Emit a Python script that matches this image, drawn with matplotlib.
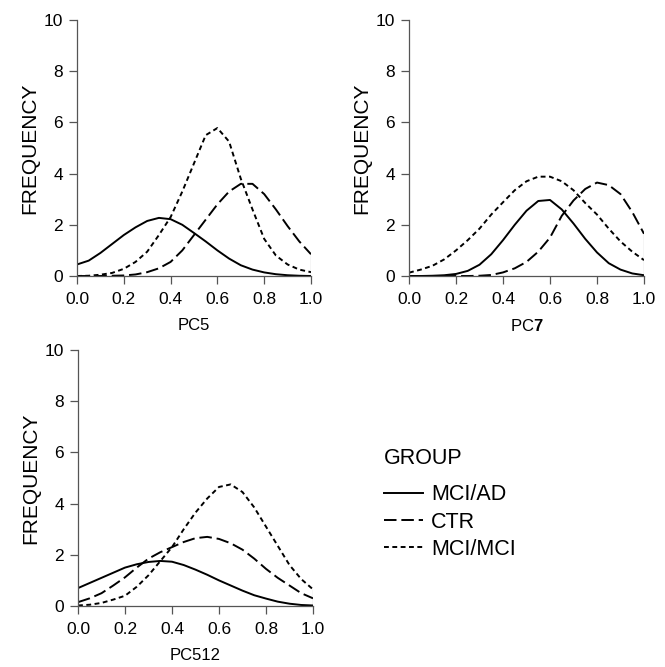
import matplotlib
matplotlib.use("Agg")
import matplotlib.pyplot as plt

plt.rcParams['font.family'] = ['Liberation Sans', 'DejaVu Sans']
plt.rcParams['mathtext.fontset'] = 'custom'
plt.rcParams['mathtext.rm'] = 'Liberation Sans'
plt.rcParams['mathtext.bf'] = 'Liberation Sans:bold'
plt.rcParams['lines.scale_dashes'] = False

xs = [0.0, 0.05, 0.1, 0.15, 0.2, 0.25, 0.3, 0.35, 0.4, 0.45, 0.5,
      0.55, 0.6, 0.65, 0.7, 0.75, 0.8, 0.85, 0.9, 0.95, 1.0]

groups = ["MCI/AD", "CTR", "MCI/MCI"]

# PC5
pc5_mci_ad = [0.45, 0.6, 0.9, 1.25, 1.6, 1.9, 2.15, 2.27, 2.22, 2.0, 1.68,
              1.35, 1.0, 0.68, 0.42, 0.25, 0.14, 0.07, 0.03, 0.01, 0.0]
pc5_ctr = [0.0, 0.0, 0.0, 0.01, 0.02, 0.06, 0.15, 0.3, 0.55, 1.0, 1.6,
           2.2, 2.8, 3.3, 3.6, 3.6, 3.2, 2.6, 1.95, 1.35, 0.85]
pc5_mci_mci = [0.0, 0.01, 0.05, 0.12, 0.28, 0.55, 0.95, 1.6, 2.3, 3.3, 4.4,
               5.5, 5.78, 5.25, 3.8, 2.6, 1.45, 0.8, 0.45, 0.25, 0.15]

# PC7
pc7_mci_ad = [0.0, 0.0, 0.01, 0.03, 0.08, 0.2, 0.44, 0.85, 1.4, 2.0, 2.55,
              2.93, 2.97, 2.6, 2.05, 1.45, 0.92, 0.5, 0.25, 0.1, 0.03]
pc7_ctr = [0.0, 0.0, 0.0, 0.0, 0.0, 0.0, 0.01, 0.04, 0.14, 0.3, 0.55,
           0.95, 1.5, 2.35, 2.95, 3.4, 3.65, 3.55, 3.2, 2.5, 1.65]
pc7_mci_mci = [0.13, 0.25, 0.4, 0.65, 1.0, 1.4, 1.85, 2.4, 2.88, 3.35, 3.7,
               3.88, 3.88, 3.7, 3.35, 2.85, 2.4, 1.85, 1.35, 0.95, 0.62]

# PC512
pc512_mci_ad = [0.7, 0.9, 1.1, 1.3, 1.5, 1.63, 1.72, 1.76, 1.73, 1.6, 1.42,
                1.22, 1.0, 0.8, 0.6, 0.42, 0.29, 0.17, 0.09, 0.04, 0.02]
pc512_ctr = [0.15, 0.3, 0.5, 0.8, 1.12, 1.5, 1.85, 2.1, 2.3, 2.5, 2.65,
             2.7, 2.62, 2.45, 2.2, 1.85, 1.45, 1.1, 0.8, 0.5, 0.3]
pc512_mci_mci = [0.02, 0.05, 0.12, 0.25, 0.4, 0.75, 1.2, 1.75, 2.3, 3.0, 3.65,
                 4.2, 4.65, 4.75, 4.45, 3.85, 3.1, 2.35, 1.6, 1.05, 0.65]

xticks = [0.0, 0.2, 0.4, 0.6, 0.8, 1.0]
yticks = [0, 2, 4, 6, 8, 10]

styles = ['-', (0, (9, 3.5)), (0, (3.5, 2.5))]


def panel(ax, curves, xlabel):
    for ys, ls, name in zip(curves, styles, groups):
        ax.plot(xs, ys, color='black', lw=1.4, linestyle=ls, label=name)
    ax.vlines(1.0, 0, max(c[-1] for c in curves), color='#555555', lw=0.8)
    ax.set_xlim(0, 1)
    ax.set_ylim(0, 10)
    ax.set_xticks(xticks)
    ax.set_xticklabels([f"{t:.1f}" for t in xticks])
    ax.set_yticks(yticks)
    ax.spines['top'].set_visible(False)
    ax.spines['right'].set_visible(False)
    for s in ['left', 'bottom']:
        ax.spines[s].set_color('#555555')
        ax.spines[s].set_linewidth(0.9)
    ax.tick_params(direction='out', length=5.5, width=0.9, color='#555555',
                   labelsize=12.5)
    ax.tick_params(axis='x', pad=6)
    ax.tick_params(axis='y', pad=4.5)
    ax.set_ylabel("FREQUENCY", fontsize=15, labelpad=3.5)
    ax.set_xlabel(xlabel, fontsize=12, labelpad=8)


W, H = 665, 667
fig = plt.figure(figsize=(W / 100, H / 100), dpi=100)

ax1 = fig.add_axes([77 / W, 1 - 276 / H, 234 / W, 256 / H])
ax2 = fig.add_axes([409 / W, 1 - 276 / H, 235 / W, 256 / H])
ax3 = fig.add_axes([78 / W, 1 - 606 / H, 235 / W, 256 / H])

panel(ax1, [pc5_mci_ad, pc5_ctr, pc5_mci_mci], "PC5")
panel(ax2, [pc7_mci_ad, pc7_ctr, pc7_mci_mci], r"PC$\mathbf{7}$")
panel(ax3, [pc512_mci_ad, pc512_ctr, pc512_mci_mci], "PC512")

fig.text(384 / W, 1 - 459 / H, "GROUP", fontsize=15.5, ha='left', va='center')
handles, labels = ax3.get_legend_handles_labels()
leg = fig.legend(handles, labels, loc='center left',
                 bbox_to_anchor=(384 / W, 1 - 522 / H), frameon=False,
                 fontsize=15.5, handlelength=1.8, handletextpad=0.4,
                 labelspacing=0.28, borderpad=0, borderaxespad=0)

fig.savefig("out.png", dpi=100)
